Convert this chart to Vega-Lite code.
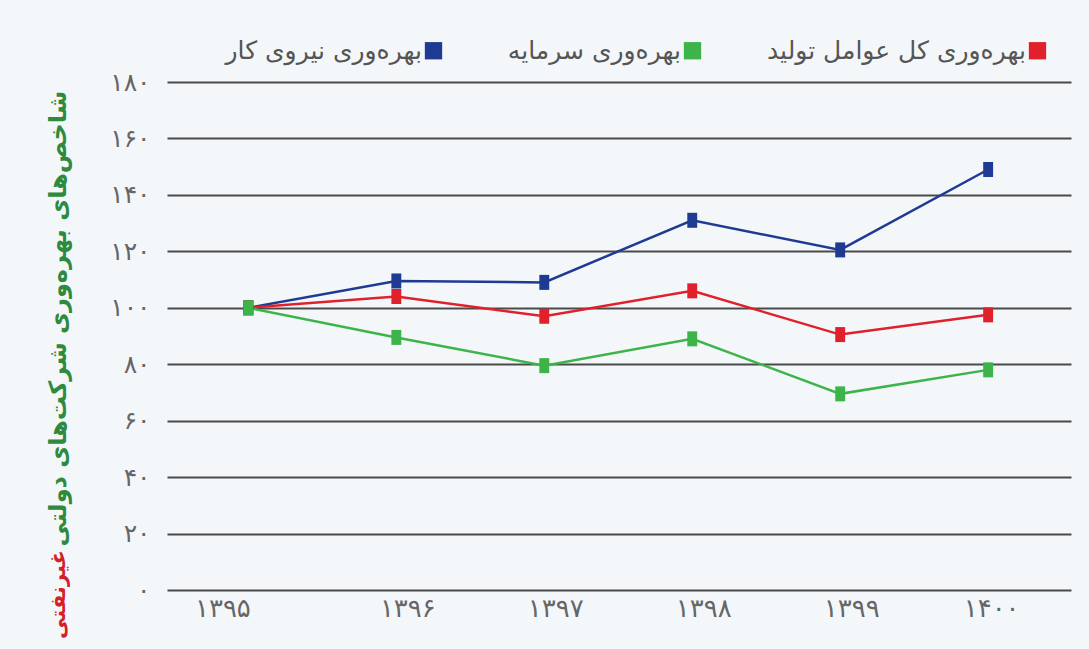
{
  "$schema": "https://vega.github.io/schema/vega-lite/v6.json",
  "autosize": {"type": "none"},
  "padding": {"left": 167, "top": 82, "right": 18, "bottom": 59},
  "width": 904,
  "height": 508,
  "background": "#f4f7fa",
  "config": {
    "view": {"stroke": null},
    "font": "DejaVu Sans"
  },
  "data": {
    "values": [
      {"year": 1395, "series": "بهره‌وری نیروی کار", "value": 100},
      {"year": 1396, "series": "بهره‌وری نیروی کار", "value": 109.5},
      {"year": 1397, "series": "بهره‌وری نیروی کار", "value": 109},
      {"year": 1398, "series": "بهره‌وری نیروی کار", "value": 131},
      {"year": 1399, "series": "بهره‌وری نیروی کار", "value": 120.5},
      {"year": 1400, "series": "بهره‌وری نیروی کار", "value": 149},
      {"year": 1395, "series": "بهره‌وری کل عوامل تولید", "value": 100},
      {"year": 1396, "series": "بهره‌وری کل عوامل تولید", "value": 104},
      {"year": 1397, "series": "بهره‌وری کل عوامل تولید", "value": 97},
      {"year": 1398, "series": "بهره‌وری کل عوامل تولید", "value": 106},
      {"year": 1399, "series": "بهره‌وری کل عوامل تولید", "value": 90.5},
      {"year": 1400, "series": "بهره‌وری کل عوامل تولید", "value": 97.5},
      {"year": 1395, "series": "بهره‌وری سرمایه", "value": 100},
      {"year": 1396, "series": "بهره‌وری سرمایه", "value": 89.5},
      {"year": 1397, "series": "بهره‌وری سرمایه", "value": 79.5},
      {"year": 1398, "series": "بهره‌وری سرمایه", "value": 89},
      {"year": 1399, "series": "بهره‌وری سرمایه", "value": 69.5},
      {"year": 1400, "series": "بهره‌وری سرمایه", "value": 78}
    ]
  },
  "layer": [
    {
      "mark": {"type": "line", "strokeWidth": 2.5},
      "encoding": {
        "x": {
          "field": "year", "type": "quantitative",
          "scale": {"domain": [1394.45, 1400.56], "nice": false, "zero": false},
          "axis": {
            "values": [1395, 1396, 1397, 1398, 1399, 1400],
            "format": "d",
            "title": null,
            "domain": false, "ticks": false, "grid": false,
            "labelFontSize": 26, "labelColor": "#666666", "labelPadding": 5,
            "labelOffset": {"condition": [{"test": "datum.value == 1395", "value": -26}, {"test": "datum.value == 1400", "value": 3}], "value": 11},
            "labelExpr": "replace(replace(replace(replace(replace(replace(replace(replace(replace(replace(datum.label,regexp('0','g'),'۰'),regexp('1','g'),'۱'),regexp('2','g'),'۲'),regexp('3','g'),'۳'),regexp('4','g'),'۴'),regexp('5','g'),'۵'),regexp('6','g'),'۶'),regexp('7','g'),'۷'),regexp('8','g'),'۸'),regexp('9','g'),'۹')"
          }
        },
        "y": {
          "field": "value", "type": "quantitative",
          "scale": {"domain": [0, 180], "nice": false},
          "axis": {
            "values": [0, 20, 40, 60, 80, 100, 120, 140, 160, 180],
            "domain": false, "ticks": false,
            "grid": true, "gridColor": "#4a4a4a", "gridWidth": 2, "gridOpacity": 1,
            "labelFontSize": 25, "labelColor": "#666666", "labelPadding": 17,
            "labelExpr": "replace(replace(replace(replace(replace(replace(replace(replace(replace(replace(datum.label,regexp('0','g'),'۰'),regexp('1','g'),'۱'),regexp('2','g'),'۲'),regexp('3','g'),'۳'),regexp('4','g'),'۴'),regexp('5','g'),'۵'),regexp('6','g'),'۶'),regexp('7','g'),'۷'),regexp('8','g'),'۸'),regexp('9','g'),'۹')",
            "title": "شاخص‌های بهره‌وری شرکت‌های دولتی",
            "titleColor": "#2e8b3e", "titleFontSize": 24, "titleFontWeight": "bold",
            "titleX": -109, "titleY": 236, "titleAngle": 270, "titleAlign": "center", "titleBaseline": "middle"
          }
        },
        "color": {
          "field": "series", "type": "nominal",
          "scale": {
            "domain": ["بهره‌وری نیروی کار", "بهره‌وری سرمایه", "بهره‌وری کل عوامل تولید"],
            "range": ["#1f3a93", "#3cb44a", "#e0202b"]
          },
          "legend": {
            "orient": "none", "legendX": 254, "legendY": -44,
            "direction": "horizontal", "title": null,
            "symbolType": "square", "symbolSize": 300, "symbolStrokeWidth": 0, "symbolOpacity": 1,
            "labelFontSize": 25, "labelColor": "#555555", "labelLimit": 400,
            "labelAlign": "right", "labelOffset": -24,
            "columnPadding": 64
          }
        }
      }
    },
    {
      "mark": {"type": "point", "filled": true, "opacity": 1, "size": 225, "shape": "M-0.66,-1H0.66V1H-0.66Z"},
      "encoding": {
        "x": {"field": "year", "type": "quantitative"},
        "y": {"field": "value", "type": "quantitative", "axis": null},
        "color": {"field": "series", "type": "nominal", "legend": null}
      }
    },
    {
      "mark": {"type": "point", "opacity": 0},
      "encoding": {
        "x": {"field": "year", "type": "quantitative"},
        "y": {
          "field": "value", "type": "quantitative",
          "axis": {
            "orient": "left", "labels": false, "ticks": false, "domain": false, "grid": false,
            "title": "غیرنفتی", "titleColor": "#d42027", "titleFontSize": 21, "titleFontWeight": "bold",
            "titleX": -109, "titleY": 512, "titleAngle": 270, "titleAlign": "center", "titleBaseline": "middle"
          }
        }
      }
    }
  ],
  "resolve": {"axis": {"y": "independent"}}
}
